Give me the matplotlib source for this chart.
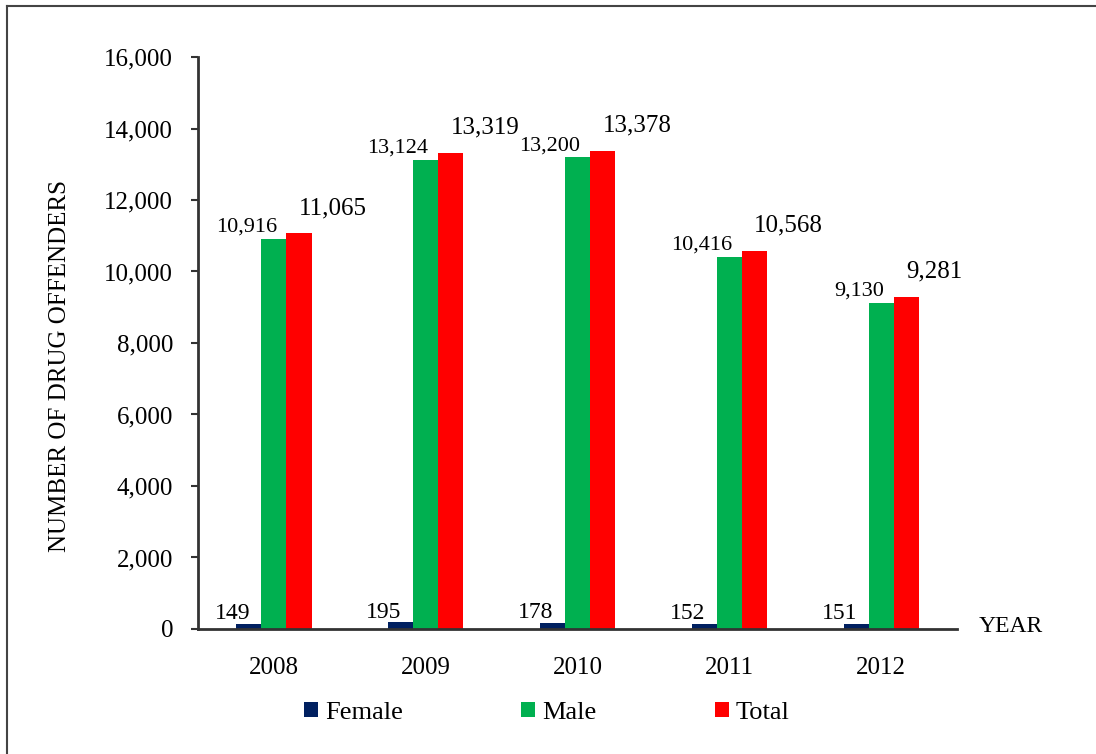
"""
Drug offenders by year, split by sex, as a grouped bar chart.
"""

import numpy as np
import matplotlib.pyplot as plt
from matplotlib.lines import Line2D


years = ["2008", "2009", "2010", "2011", "2012"]
female = [149, 195, 178, 152, 151]
male = [10916, 13124, 13200, 10416, 9130]
total = [11065, 13319, 13378, 10568, 9281]

series_names = ["Female", "Male", "Total"]
series_colors = ["#002060", "#00B050", "#FF0000"]

plt.rcParams["font.family"] = ["Liberation Serif", "DejaVu Serif"]

fig = plt.figure(figsize=(10.96, 7.54), dpi=100)
ax = fig.add_axes([0.1807, 0.1658, 0.6925, 0.7586])

x = np.arange(len(years))
width = 0.165

bars_f = ax.bar(x - width, female, width, color=series_colors[0], label=series_names[0])
bars_m = ax.bar(x, male, width, color=series_colors[1], label=series_names[1])
bars_t = ax.bar(x + width, total, width, color=series_colors[2], label=series_names[2])

# value labels, nudged the way the original has them
for b, v in zip(bars_f, female):
    ax.annotate(f"{v:,}", (b.get_x() + b.get_width() / 2, v),
                xytext=(-12, 3), textcoords="offset points",
                ha="center", va="baseline", fontsize=17)
for b, v in zip(bars_m, male):
    ax.annotate(f"{v:,}", (b.get_x() + b.get_width(), v),
                xytext=(-7, 5), textcoords="offset points",
                ha="right", va="baseline", fontsize=16)
for b, v in zip(bars_t, total):
    ax.annotate(f"{v:,}", (b.get_x(), v),
                xytext=(9, 14), textcoords="offset points",
                ha="left", va="baseline", fontsize=18)

ax.set_xlim(-0.5, len(years) - 0.5)
ax.set_ylim(0, 16000)
ax.set_yticks(range(0, 16001, 2000))
ax.set_yticklabels([f"{t:,}" for t in range(0, 16001, 2000)])
ax.set_xticks(x)
ax.set_xticklabels(years)

ax.tick_params(axis="y", direction="out", length=5, width=1.5, color="#333333",
               pad=13, labelsize=18)
ax.tick_params(axis="x", length=0, pad=20, labelsize=18)

for side in ["top", "right"]:
    ax.spines[side].set_visible(False)
for side in ["left", "bottom"]:
    ax.spines[side].set_color("#333333")
    ax.spines[side].set_linewidth(2)

fig.text(60 / 1096, 1 - 366 / 754, "NUMBER OF DRUG OFFENDERS", rotation=90,
         ha="center", va="center", fontsize=18)
fig.text(979 / 1096, 1 - 627 / 754, "YEAR", ha="left", va="center", fontsize=17)

fig.legend(loc="center", bbox_to_anchor=(0.499, 1 - 713 / 754), ncol=3,
           frameon=False, fontsize=19, handlelength=0.53, handleheight=0.53,
           handletextpad=0.26, columnspacing=4.5)

# outer frame, only the left and top edges show in the original
fig.add_artist(Line2D([6.5 / 1096, 6.5 / 1096], [0, 1 - 5.5 / 754],
                      transform=fig.transFigure, color="#444444", lw=1.5))
fig.add_artist(Line2D([6.5 / 1096, 1], [1 - 5.5 / 754, 1 - 5.5 / 754],
                      transform=fig.transFigure, color="#444444", lw=1.5))

plt.savefig("out.png", dpi=100)
